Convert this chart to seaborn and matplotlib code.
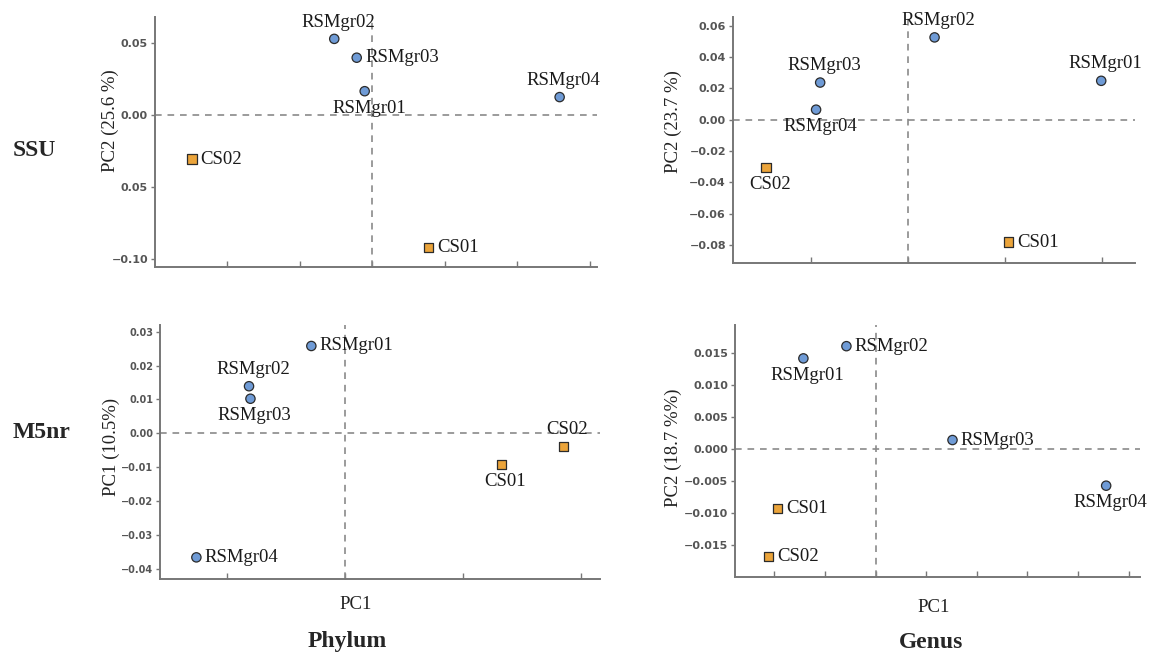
import numpy as np
import pandas as pd
import matplotlib
matplotlib.use("Agg")
import matplotlib.pyplot as plt
import seaborn as sns

# PCA coordinates
samples = ["RSMgr01", "RSMgr02", "RSMgr03", "RSMgr04", "CS01", "CS02"]
groups = ["RSMgr", "RSMgr", "RSMgr", "RSMgr", "CS", "CS"]

ssu_phylum_x = [-0.0053, -0.0263, -0.0108, 0.1292, 0.0387, -0.1245]
ssu_phylum_y = [0.0168, 0.0532, 0.0401, 0.0127, -0.0917, -0.0304]

ssu_genus_x = [0.0996, 0.0138, -0.0451, -0.0472, 0.0519, -0.0730]
ssu_genus_y = [0.0248, 0.0525, 0.0237, 0.0064, -0.0781, -0.0305]

m5nr_phylum_x = [-0.0143, -0.0407, -0.0401, -0.0630, 0.0662, 0.0924]
m5nr_phylum_y = [0.0258, 0.0139, 0.0102, -0.0367, -0.0093, -0.0039]

m5nr_genus_x = [-0.0285, -0.0115, 0.0304, 0.0911, -0.0386, -0.0422]
m5nr_genus_y = [0.0141, 0.0160, 0.0014, -0.0057, -0.0092, -0.0167]

ylabels = ["PC2 (25.6 %)", "PC2 (23.7 %)", "PC1 (10.5%)", "PC2 (18.7 %%)"]

# label placement per point: r = right, t = top, b = below
ssu_phylum_pos = ["b", "t", "r", "t", "r", "r"]
ssu_genus_pos = ["t", "t", "t", "b", "r", "b"]
m5nr_phylum_pos = ["r", "t", "b", "r", "b", "t"]
m5nr_genus_pos = ["b", "r", "r", "b", "r", "r"]

sns.set_theme(style="white")
plt.rcParams["font.family"] = ["Liberation Serif", "DejaVu Serif"]

blue = "#6f9bd6"
orange = "#eba43a"
grey = "#777777"

fig = plt.figure(figsize=(11.53, 6.57), dpi=100)

panels = [
    ([0.1344, 0.5936, 0.3834, 0.3805], ssu_phylum_x, ssu_phylum_y, ssu_phylum_pos,
     (-0.150, 0.155), (-0.1055, 0.0684), 0.05, [0.05, 0.0, -0.05, -0.10],
     ["0.05", "0.00", "0.05", "\u22120.10"], (-0.100, 0.584), None, 8),
    ([0.6357, 0.5997, 0.3487, 0.3744], ssu_genus_x, ssu_genus_y, ssu_genus_pos,
     (-0.090, 0.117), (-0.0914, 0.0655), 0.05, [0.06, 0.04, 0.02, 0.0, -0.02, -0.04, -0.06, -0.08],
     None, (-0.149, 0.577), None, 8),
    ([0.1388, 0.1187, 0.3816, 0.3866], m5nr_phylum_x, m5nr_phylum_y, m5nr_phylum_pos,
     (-0.0784, 0.108), (-0.0431, 0.032), 0.05, [0.03, 0.02, 0.01, 0.0, -0.01, -0.02, -0.03, -0.04],
     None, (-0.110, 0.52), (0.445, -0.102), 7),
    ([0.6375, 0.1218, 0.3513, 0.3836], m5nr_genus_x, m5nr_genus_y, m5nr_genus_pos,
     (-0.0555, 0.1045), (-0.0199, 0.0193), 0.02, [0.015, 0.010, 0.005, 0.0, -0.005, -0.010, -0.015],
     None, (-0.153, 0.512), (0.491, -0.122), 8),
]

for i, (rect, xs, ys, pos, xlim, ylim, xstep, yticks, yticklabels, ylab_xy, xlab_xy, tick_fs) in enumerate(panels):
    ax = fig.add_axes(rect)
    df = pd.DataFrame({"x": xs, "y": ys, "sample": samples, "group": groups})
    sns.scatterplot(data=df, x="x", y="y", hue="group", style="group",
                    palette={"RSMgr": blue, "CS": orange},
                    markers={"RSMgr": "o", "CS": "s"},
                    s=45, edgecolor="#2b2b2b", linewidth=0.9, legend=False, ax=ax, zorder=3)

    ax.axhline(0, color="#8a8a8a", lw=1.2, ls=(0, (4, 3.5)), zorder=1)
    ax.axvline(0, color="#8a8a8a", lw=1.2, ls=(0, (4, 3.5)), zorder=1)

    for name, xv, yv, p in zip(samples, xs, ys, pos):
        if p == "r":
            off, ha, va = (6, 0), "left", "center"
        elif p == "t":
            off, ha, va = (3, 6), "center", "bottom"
        else:
            off, ha, va = (3, -6), "center", "top"
        ax.annotate(name, (xv, yv), xytext=off, textcoords="offset points",
                    ha=ha, va=va, fontsize=13.5, color="#1a1a1a")

    ax.set_xlim(xlim)
    ax.set_ylim(ylim)
    n0 = int(np.ceil(xlim[0] / xstep))
    n1 = int(np.floor(xlim[1] / xstep))
    ax.set_xticks([k * xstep for k in range(n0, n1 + 1)])
    ax.set_xticklabels([])
    ax.set_yticks(yticks)
    if yticklabels is not None:
        ax.set_yticklabels(yticklabels)
    else:
        dec = 3 if i == 3 else 2
        ax.set_yticklabels([f"{v:.{dec}f}".replace("-", "\u2212") for v in yticks])
    for lab in ax.get_yticklabels():
        lab.set_family("DejaVu Sans")
        lab.set_fontsize(tick_fs)
        lab.set_color("#555555")
        lab.set_fontweight("bold")

    ax.tick_params(axis="x", bottom=True, direction="in", length=4, color=grey, width=1)
    ax.tick_params(axis="y", left=True, direction="out", length=3, color=grey, width=1, pad=2)
    for side in ["top", "right"]:
        ax.spines[side].set_visible(False)
    for side in ["left", "bottom"]:
        ax.spines[side].set_color(grey)
        ax.spines[side].set_linewidth(1.4)

    ax.set_ylabel(ylabels[i], fontsize=13.5, color="#222222")
    ax.yaxis.label.set_va("center")
    ax.yaxis.set_label_coords(*ylab_xy)
    if xlab_xy is not None:
        ax.set_xlabel("PC1", fontsize=13.5, color="#222222")
        ax.xaxis.label.set_va("center")
        ax.xaxis.set_label_coords(*xlab_xy)
    else:
        ax.set_xlabel("")

fig.text(34 / 1153, 1 - 150 / 657, "SSU", fontsize=17, fontweight="bold", ha="center", va="center")
fig.text(42 / 1153, 1 - 432 / 657, "M5nr", fontsize=17, fontweight="bold", ha="center", va="center")
fig.text(347 / 1153, 1 - 642 / 657, "Phylum", fontsize=17, fontweight="bold", ha="center", va="center")
fig.text(931 / 1153, 1 - 642 / 657, "Genus", fontsize=17, fontweight="bold", ha="center", va="center")

fig.savefig("out.png", dpi=100)
